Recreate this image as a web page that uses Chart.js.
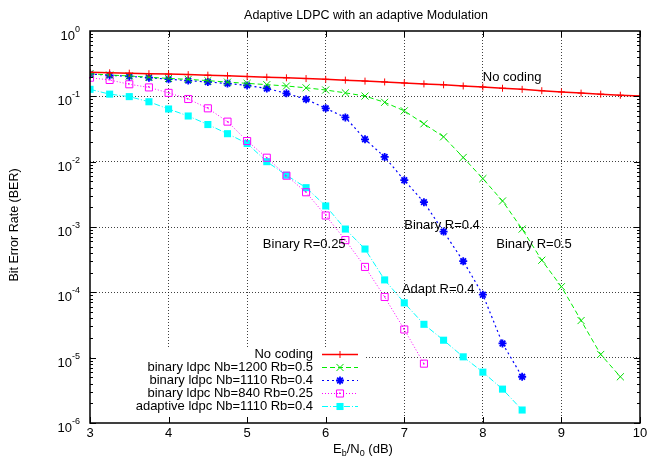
<!DOCTYPE html>
<html>
<head>
<meta charset="utf-8">
<script src="https://cdn.jsdelivr.net/npm/chart.js@4.4.1/dist/chart.umd.min.js"></script>
<style>
  html, body { margin: 0; padding: 0; background: #fff; }
</style>
</head>
<body>
<canvas id="chart" width="649" height="459"></canvas>
<script>
// Eb/N0 (dB) sample positions, 0.25 dB step
const ebn0 = [3, 3.25, 3.5, 3.75, 4, 4.25, 4.5, 4.75, 5, 5.25, 5.5, 5.75, 6, 6.25, 6.5, 6.75,
  7, 7.25, 7.5, 7.75, 8, 8.25, 8.5, 8.75, 9, 9.25, 9.5, 9.75, 10];

// BER values
const noCoding = [0.233, 0.229, 0.226, 0.222, 0.219, 0.215, 0.211, 0.207, 0.201, 0.196, 0.192, 0.187,
  0.182, 0.177, 0.171, 0.166, 0.160, 0.155, 0.150, 0.144, 0.139, 0.133, 0.128, 0.122, 0.117, 0.112,
  0.108, 0.104, 0.101];
const binaryR05 = [0.222, 0.212, 0.205, 0.196, 0.188, 0.182, 0.174, 0.165, 0.158, 0.151, 0.144, 0.135,
  0.125, 0.113, 0.101, 0.081, 0.060, 0.038, 0.024, 0.0116, 0.0055, 0.0025, 0.00093, 0.00031,
  0.000122, 3.7e-5, 1.12e-5, 5.1e-6];
const binaryR04 = [0.22, 0.21, 0.202, 0.193, 0.183, 0.174, 0.166, 0.157, 0.147, 0.132, 0.111, 0.090,
  0.0655, 0.0476, 0.022, 0.0118, 0.0052, 0.0024, 0.00085, 0.0003, 9.2e-5, 1.65e-5, 5.1e-6];
const binaryR025 = [0.193, 0.178, 0.153, 0.137, 0.113, 0.091, 0.0655, 0.041, 0.0207, 0.0115, 0.0061,
  0.0034, 0.0015, 0.00063, 0.000245, 8.5e-5, 2.7e-5, 8.1e-6];
const adaptiveR04 = [0.128, 0.108, 0.099, 0.0826, 0.064, 0.050, 0.037, 0.0268, 0.019, 0.010, 0.0062,
  0.0040, 0.0021, 0.00093, 0.00046, 0.000155, 6.9e-5, 3.24e-5, 1.85e-5, 1.03e-5, 6.0e-6, 3.3e-6, 1.58e-6];

const seriesLabels = ["No coding", "binary ldpc Nb=1200 Rb=0.5", "binary ldpc Nb=1110 Rb=0.4",
  "binary ldpc Nb=840 Rb=0.25", "adaptive ldpc Nb=1110 Rb=0.4"];

const xTicks = [3, 4, 5, 6, 7, 8, 9, 10];
const yTickExps = [0, -1, -2, -3, -4, -5, -6];

// text labels placed in data coordinates
const notes = [
  { text: "No coding", x: 8.0, y: 0.193 },
  { text: "Binary R=0.4", x: 7.0, y: 1.05e-3 },
  { text: "Binary R=0.5", x: 8.17, y: 5.4e-4 },
  { text: "Binary R=0.25", x: 5.2, y: 5.4e-4 },
  { text: "Adapt R=0.4", x: 6.97, y: 1.1e-4 },
];

const FONT = '"Liberation Sans", Arial, sans-serif';

function toPoints(vals) {
  return vals.map((v, i) => ({ x: ebn0[i], y: v }));
}

const datasets = [
  { label: seriesLabels[0], data: toPoints(noCoding), borderColor: "#ff0000", borderWidth: 1.5,
    pointStyle: "cross", pointRadius: 3.5, pointBorderWidth: 1, pointBorderColor: "#ff0000" },
  { label: seriesLabels[1], data: toPoints(binaryR05), borderColor: "#00ee00", borderWidth: 1,
    borderDash: [5, 3], pointStyle: "crossRot", pointRadius: 5, pointBorderWidth: 1, pointBorderColor: "#00dd00" },
  { label: seriesLabels[2], data: toPoints(binaryR04), borderColor: "#0000ff", borderWidth: 1.2,
    borderDash: [2, 3], pointStyle: "star", pointRadius: 4, pointBorderWidth: 1.8, pointBorderColor: "#0000ff" },
  { label: seriesLabels[3], data: toPoints(binaryR025), borderColor: "#ff00ff", borderWidth: 1,
    borderDash: [1, 2], pointStyle: "rect", pointRadius: 5, pointBorderWidth: 1,
    pointBorderColor: "#ff00ff", pointBackgroundColor: "rgba(0,0,0,0)" },
  { label: seriesLabels[4], data: toPoints(adaptiveR04), borderColor: "#00ffff", borderWidth: 1,
    borderDash: [6, 2, 1, 2], pointStyle: "rect", pointRadius: 5, pointBorderWidth: 0,
    pointBorderColor: "#00ffff", pointBackgroundColor: "#00ffff" },
];
datasets.forEach(d => { d.fill = false; d.tension = 0; d.backgroundColor = d.pointBackgroundColor || "rgba(0,0,0,0)"; });

function isDecade(v) {
  const l = Math.log10(v);
  return Math.abs(l - Math.round(l)) < 1e-9;
}

const gnuplotLook = {
  id: "gnuplotLook",
  beforeDatasetsDraw(chart) {
    // opaque key box hides the grid behind the legend
    const ctx = chart.ctx;
    ctx.save();
    ctx.fillStyle = "#fff";
    ctx.fillRect(chart.chartArea.left + 1, 348, 365 - chart.chartArea.left, chart.chartArea.bottom - 348);
    ctx.restore();
  },
  afterDatasetsDraw(chart) {
    // small dot inside the open squares
    const ctx = chart.ctx;
    ctx.save();
    ctx.fillStyle = "#ff00ff";
    chart.getDatasetMeta(3).data.forEach(p => ctx.fillRect(Math.round(p.x) - 1, Math.round(p.y) - 1, 1.5, 1.5));
    ctx.restore();
  },
  afterDraw(chart) {
    const ctx = chart.ctx;
    const { left, right, top, bottom } = chart.chartArea;
    const xs = chart.scales.x, ys = chart.scales.y;
    ctx.save();

    // border
    ctx.strokeStyle = "#000";
    ctx.lineWidth = 1.5;
    ctx.strokeRect(left, top, right - left, bottom - top);

    // tick marks, inward on all sides
    ctx.lineWidth = 1;
    ctx.beginPath();
    xTicks.forEach(v => {
      const px = Math.round(xs.getPixelForValue(v)) + 0.5;
      ctx.moveTo(px, bottom); ctx.lineTo(px, bottom - 6);
      ctx.moveTo(px, top); ctx.lineTo(px, top + 6);
    });
    for (let e = -6; e < 0; e++) {
      for (let m = 1; m <= 9; m++) {
        const v = m * Math.pow(10, e);
        const py = Math.round(ys.getPixelForValue(v)) + 0.5;
        const len = m === 1 ? 6 : 3;
        ctx.moveTo(left, py); ctx.lineTo(left + len, py);
        ctx.moveTo(right, py); ctx.lineTo(right - len, py);
      }
    }
    ctx.stroke();

    ctx.fillStyle = "#000";
    // x tick labels
    ctx.font = "13px " + FONT;
    ctx.textAlign = "center";
    ctx.textBaseline = "alphabetic";
    xTicks.forEach(v => ctx.fillText(String(v), xs.getPixelForValue(v), bottom + 14));

    // y tick labels 10^n
    yTickExps.forEach(e => {
      const py = ys.getPixelForValue(Math.pow(10, e));
      const ex = e === 0 ? "0" : "-" + (-e);
      ctx.font = "9px " + FONT;
      ctx.textAlign = "right";
      ctx.fillText(ex, 80, py + 1);
      const w = ctx.measureText(ex).width;
      ctx.font = "13px " + FONT;
      ctx.fillText("10", 80 - w, py + 9);
    });

    // title
    ctx.font = "12.5px " + FONT;
    ctx.textAlign = "center";
    ctx.fillText("Adaptive LDPC with an adaptive Modulation", (left + right) / 2 + 1, 19);

    // x axis title with subscripts
    const parts = [["E", 13, 0], ["b", 9, 3], ["/N", 13, 0], ["0", 9, 3], [" (dB)", 13, 0]];
    let total = 0;
    parts.forEach(p => { ctx.font = p[1] + "px " + FONT; total += ctx.measureText(p[0]).width; });
    let cx = 363 - total / 2;
    ctx.textAlign = "left";
    parts.forEach(p => {
      ctx.font = p[1] + "px " + FONT;
      ctx.fillText(p[0], cx, 453 + p[2]);
      cx += ctx.measureText(p[0]).width;
    });

    // y axis title
    ctx.save();
    ctx.translate(18, 225);
    ctx.rotate(-Math.PI / 2);
    ctx.font = "12.5px " + FONT;
    ctx.textAlign = "center";
    ctx.fillText("Bit Error Rate (BER)", 0, 0);
    ctx.restore();

    // notes on the plot
    ctx.font = "13px " + FONT;
    ctx.textAlign = "left";
    ctx.textBaseline = "middle";
    notes.forEach(n => ctx.fillText(n.text, xs.getPixelForValue(n.x), ys.getPixelForValue(n.y)));

    // key, gnuplot style: text right, sample on the right
    chart.data.datasets.forEach((ds, i) => {
      const ry = 354 + i * 13;
      ctx.fillStyle = "#000";
      ctx.textAlign = "right";
      ctx.fillText(ds.label, 313, ry);
      ctx.save();
      ctx.strokeStyle = ds.borderColor;
      ctx.lineWidth = ds.borderWidth;
      ctx.setLineDash(ds.borderDash || []);
      ctx.beginPath();
      ctx.moveTo(322, ry + 0.5); ctx.lineTo(358, ry + 0.5);
      ctx.stroke();
      ctx.setLineDash([]);
      ctx.strokeStyle = ds.pointBorderColor;
      ctx.fillStyle = ds.pointBackgroundColor || "rgba(0,0,0,0)";
      ctx.lineWidth = ds.pointBorderWidth;
      Chart.helpers.drawPoint(ctx, {
        pointStyle: ds.pointStyle, radius: ds.pointRadius, rotation: 0,
        borderWidth: ds.pointBorderWidth
      }, 340, ry + 0.5);
      if (i === 3) {
        ctx.fillStyle = ds.pointBorderColor;
        ctx.fillRect(339, ry - 0.5, 1.5, 1.5);
      }
      ctx.restore();
    });
    ctx.restore();
  }
};

new Chart(document.getElementById("chart"), {
  type: "line",
  data: { datasets },
  options: {
    responsive: false,
    animation: false,
    layout: { padding: { left: 90, right: 9, top: 31, bottom: 36 } },
    plugins: { legend: { display: false }, tooltip: { enabled: false }, title: { display: false } },
    scales: {
      x: {
        type: "linear", min: 3, max: 10,
        ticks: { display: false, stepSize: 1 },
        grid: {
          drawTicks: false, lineWidth: 1,
          color: c => (c.tick && c.tick.value > 3 && c.tick.value < 10) ? "rgba(0,0,0,0.75)" : "rgba(0,0,0,0)"
        },
        border: { display: false, dash: [1, 2] },
        afterFit: s => { s.height = 0; }
      },
      y: {
        type: "logarithmic", min: 1e-6, max: 1,
        ticks: { display: false },
        grid: {
          drawTicks: false, lineWidth: 1,
          color: c => (c.tick && isDecade(c.tick.value) && c.tick.value > 1.5e-6 && c.tick.value < 0.9)
            ? "rgba(0,0,0,0.75)" : "rgba(0,0,0,0)"
        },
        border: { display: false, dash: [1, 2] },
        afterFit: s => { s.width = 0; }
      }
    }
  },
  plugins: [gnuplotLook]
});
</script>
</body>
</html>
